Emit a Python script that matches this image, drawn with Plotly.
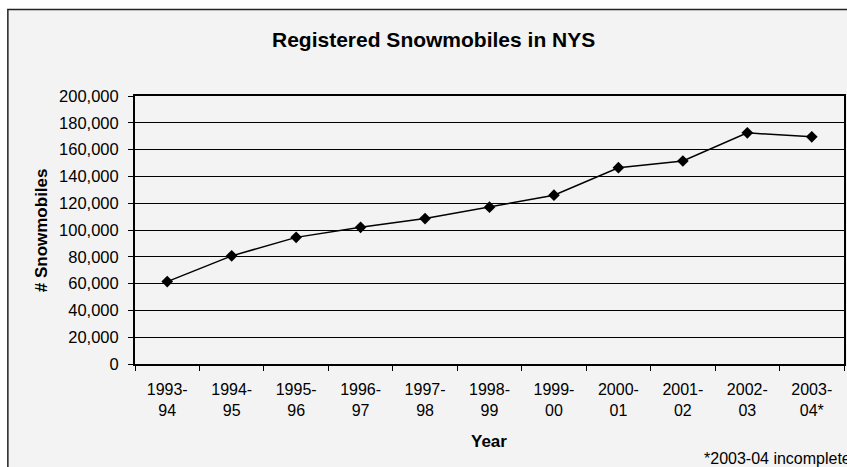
import plotly.graph_objects as go

years = ["1993-<br>94", "1994-<br>95", "1995-<br>96", "1996-<br>97", "1997-<br>98",
         "1998-<br>99", "1999-<br>00", "2000-<br>01", "2001-<br>02", "2002-<br>03", "2003-<br>04*"]
registrations = [61500, 80700, 94500, 102000, 108500, 117000, 126000, 146500, 151500, 172500, 169500]
y_ticks = [0, 20000, 40000, 60000, 80000, 100000, 120000, 140000, 160000, 180000, 200000]

W, H = 847, 467
# plot area in window pixels: x 135..846, y 96..364
L, T = 135, 96
R = W - 846
B = H - 364
pw, ph = W - L - R, H - T - B


def px(sx):
    return (sx - L) / pw


def py(sy):
    return (H - B - sy) / ph


FONT = "Liberation Sans, Arial, sans-serif"
BG = "#f3f3f3"

fig = go.Figure()
fig.add_trace(go.Scatter(
    x=years, y=registrations, mode="lines+markers",
    line=dict(color="black", width=1.5),
    marker=dict(symbol="diamond", size=9, color="black"),
    showlegend=False, hoverinfo="skip",
))

fig.update_layout(
    width=W, height=H,
    margin=dict(l=L, r=R, t=T, b=B, pad=0),
    paper_bgcolor="white",
    plot_bgcolor="rgba(0,0,0,0)",
    font=dict(family=FONT, color="black", size=16),
    shapes=[dict(type="rect", xref="paper", yref="paper",
                 x0=px(7.5), x1=3, y0=-1, y1=py(9.5),
                 line=dict(color="#222", width=1.5), fillcolor=BG, layer="below")],
    annotations=[
        dict(text="<b>Registered Snowmobiles in NYS</b>", xref="paper", yref="paper",
             x=px(434), y=py(39), showarrow=False, font=dict(size=21, family=FONT),
             xanchor="center", yanchor="middle"),
        dict(text="<b># Snowmobiles</b>", xref="paper", yref="paper",
             x=px(41), y=py(230), showarrow=False, textangle=-90,
             font=dict(size=17, family=FONT), xanchor="center", yanchor="middle"),
        dict(text="<b>Year</b>", xref="paper", yref="paper",
             x=px(490), y=py(441), showarrow=False,
             font=dict(size=17, family=FONT), xanchor="center", yanchor="middle"),
        dict(text="*2003-04 incomplete", xref="paper", yref="paper",
             x=px(704), y=py(458), showarrow=False,
             font=dict(size=16, family=FONT), xanchor="left", yanchor="middle"),
    ],
    xaxis=dict(
        type="category", tickson="boundaries", ticks="outside", ticklen=5,
        tickcolor="black", showgrid=False, showline=True, linecolor="black",
        linewidth=2, mirror=True, range=[-0.5, 10.5], tickangle=0,
        ticklabelstandoff=10, tickfont=dict(size=16),
    ),
    yaxis=dict(
        range=[0, 200000], tickvals=y_ticks, tickformat=",d",
        ticks="outside", ticklen=5, tickcolor="black",
        showgrid=True, gridcolor="black", gridwidth=1,
        showline=True, linecolor="black", linewidth=2, mirror=True,
        zeroline=False, ticklabelstandoff=6, tickfont=dict(size=16.5),
    ),
)

fig.write_html("out.html", config={"displayModeBar": False},
               post_script="document.body.style.margin='0';document.body.style.overflow='hidden';")
